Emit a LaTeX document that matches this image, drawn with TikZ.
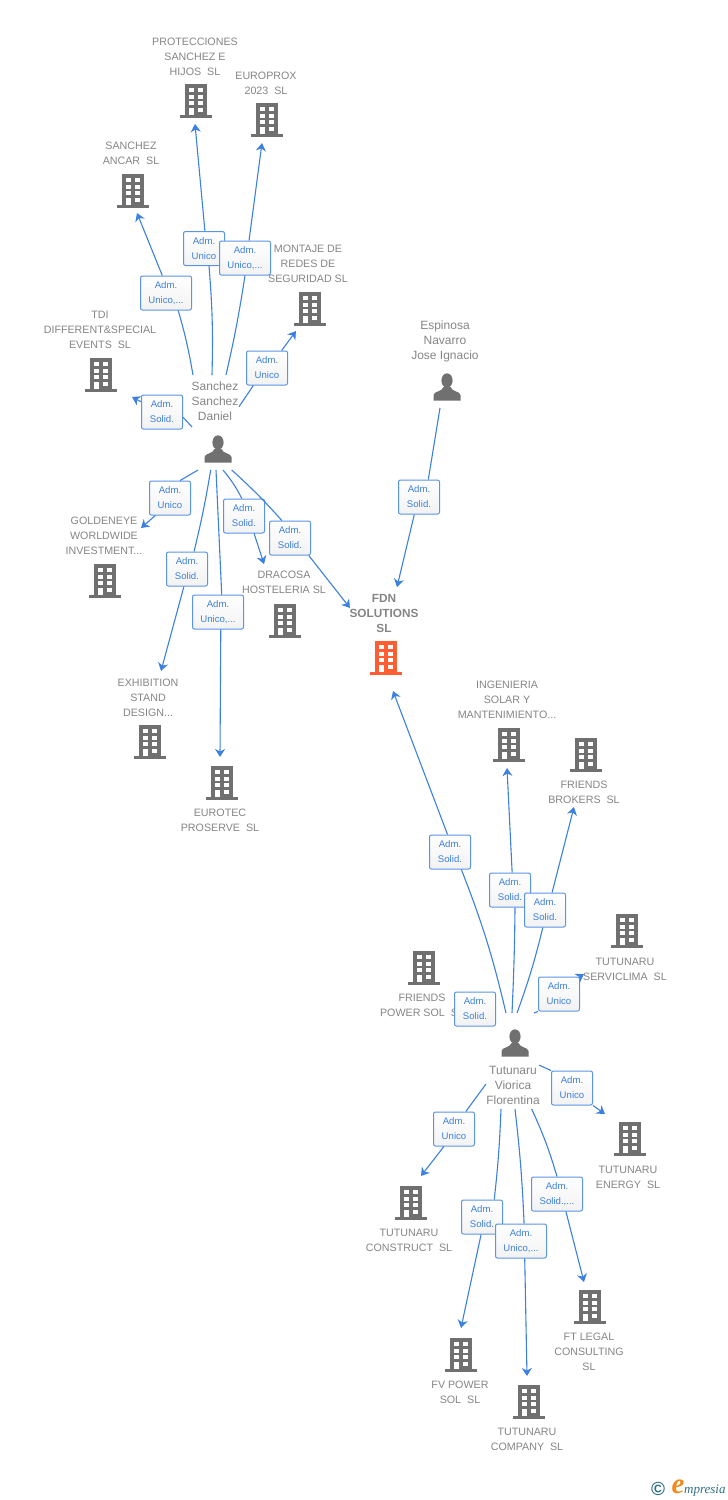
\documentclass[tikz,border=0pt]{standalone}
\usepackage{fontspec}
\setmainfont{Liberation Sans}
\newfontfamily\logofont{Liberation Serif}
\usetikzlibrary{arrows.meta}

\definecolor{iconGray}{HTML}{707070}
\definecolor{textGray}{HTML}{858585}
\definecolor{linkBlue}{HTML}{3C80E0}
\definecolor{boxBlue}{HTML}{5A94E6}
\definecolor{fdnOrange}{HTML}{FF5E33}
\definecolor{logoTeal}{HTML}{2F6F86}
\definecolor{logoOrange}{HTML}{F28A1E}

\tikzset{
	pics/building/.style={code={
		\fill[#1] (-11,-17) rectangle (11,14);
		\fill[#1] (-16,14) rectangle (16,17);
		\fill[white] (-7,-13) rectangle (-2,-9);
		\fill[white] (2,-13) rectangle (7,-9);
		\fill[white] (-7,-6.3) rectangle (-2,-2.3);
		\fill[white] (2,-6.3) rectangle (7,-2.3);
		\fill[white] (-7,0.4) rectangle (-2,4.4);
		\fill[white] (2,0.4) rectangle (7,4.4);
		\fill[white] (-7,7) rectangle (-2,14);
		\fill[white] (2,7) rectangle (7,11);
	}},
	pics/person/.style={code={
		\fill[iconGray] (0,-6.5) ellipse (5.6 and 7.2);
		\fill[iconGray] (-13.5,13.5) -- (-13.5,8) .. controls (-13,4) and (-5,5) .. (-3.5,0) -- (3.5,0) .. controls (5,5) and (13,4) .. (13.5,8) -- (13.5,13.5) -- cycle;
	}},
	firm/.style={text=textGray,align=center,inner sep=0pt,yshift=-1pt,font=\fontsize{10.7}{15}\selectfont},
	human/.style={firm,font=\fontsize{12}{15}\selectfont},
	adm/.style={draw=boxBlue,line width=1pt,rounded corners=2pt,top color=white,bottom color=black!5,text=linkBlue,align=center,inner sep=0pt,minimum width=41pt,minimum height=34pt,font=\fontsize{9.6}{15}\selectfont,execute at begin node={\vspace*{2pt}}},
	admw/.style={adm,minimum width=51pt},
	link/.style={draw=linkBlue,line width=1.1pt},
	arrow/.style={link,-{Stealth[length=8pt,width=10pt,inset=2.5pt]}}
}

\begin{document}
\begin{tikzpicture}[x=1pt,y=-1pt]
	\useasboundingbox (0,0) rectangle (728,1500);

	\pic at (196,101) {building=iconGray};
	\pic at (267,120) {building=iconGray};
	\pic at (133,191) {building=iconGray};
	\pic at (310,309) {building=iconGray};
	\pic at (101,375) {building=iconGray};
	\pic at (105,581) {building=iconGray};
	\pic at (285,621) {building=iconGray};
	\pic at (150,742) {building=iconGray};
	\pic at (222,783) {building=iconGray};
	\pic at (386,658) {building=fdnOrange};
	\pic at (509,745) {building=iconGray};
	\pic at (586,755) {building=iconGray};
	\pic at (627,931) {building=iconGray};
	\pic at (424,968) {building=iconGray};
	\pic at (630,1139) {building=iconGray};
	\pic at (411,1203) {building=iconGray};
	\pic at (590,1307) {building=iconGray};
	\pic at (461,1355) {building=iconGray};
	\pic at (529,1402) {building=iconGray};
	\pic at (218,449) {person};
	\pic at (447,387) {person};
	\pic at (515,1043) {person};

	\node[firm] (protecciones) at (195,56) {PROTECCIONES\\SANCHEZ E\\HIJOS~~SL};
	\node[firm] (europrox) at (266,82) {EUROPROX\\2023~~SL};
	\node[firm] (ancar) at (131,152) {SANCHEZ\\ANCAR~~SL};
	\node[firm] (montaje) at (308,263) {MONTAJE DE\\REDES DE\\SEGURIDAD SL};
	\node[firm] (tdi) at (100,329) {TDI\\DIFFERENT\&SPECIAL\\EVENTS~~SL};
	\node[human] (espinosa) at (445,340) {Espinosa\\Navarro\\Jose Ignacio};
	\node[human] (sanchez) at (215,400) {Sanchez\\Sanchez\\Daniel};
	\node[firm] (goldeneye) at (104,535) {GOLDENEYE\\WORLDWIDE\\INVESTMENT...};
	\node[firm] (dracosa) at (284,581) {DRACOSA\\HOSTELERIA SL};
	\node[firm,font=\fontsize{11.8}{15}\selectfont\bfseries] (fdn) at (384,612) {FDN\\SOLUTIONS\\SL};
	\node[firm] (exhibition) at (148,697) {EXHIBITION\\STAND\\DESIGN...};
	\node[firm] (eurotec) at (220,819) {EUROTEC\\PROSERVE~~SL};
	\node[firm] (ingenieria) at (507,699) {INGENIERIA\\SOLAR Y\\MANTENIMIENTO...};
	\node[firm] (brokers) at (584,791) {FRIENDS\\BROKERS~~SL};
	\node[firm] (serviclima) at (625,968) {TUTUNARU\\SERVICLIMA~~SL};
	\node[firm] (powersol) at (422,1004) {FRIENDS\\POWER SOL~~SL};
	\node[human] (tutunaru) at (513,1084) {Tutunaru\\Viorica\\Florentina};
	\node[firm] (energy) at (628,1176) {TUTUNARU\\ENERGY~~SL};
	\node[firm] (construct) at (409,1239) {TUTUNARU\\CONSTRUCT~~SL};
	\node[firm] (ftlegal) at (589,1351) {FT LEGAL\\CONSULTING\\SL};
	\node[firm] (fvpower) at (460,1391) {FV POWER\\SOL~~SL};
	\node[firm] (company) at (527,1438) {TUTUNARU\\COMPANY~~SL};

	\node[adm] (boxProtecciones) at (204,248.5) {Adm.\\Unico};
	\node[admw] (boxEuroprox) at (245,258) {Adm.\\Unico,...};
	\node[admw] (boxAncar) at (166,293) {Adm.\\Unico,...};
	\node[adm] (boxMontaje) at (267,368) {Adm.\\Unico};
	\node[adm] (boxTdi) at (162,412) {Adm.\\Solid.};
	\node[adm] (boxGoldeneye) at (170,498) {Adm.\\Unico};
	\node[adm] (boxDracosa) at (244,516) {Adm.\\Solid.};
	\node[adm] (boxSanchezFdn) at (290,538) {Adm.\\Solid.};
	\node[adm] (boxExhibition) at (187,569) {Adm.\\Solid.};
	\node[admw] (boxEurotec) at (218,612) {Adm.\\Unico,...};
	\node[adm] (boxEspinosa) at (419,497) {Adm.\\Solid.};
	\node[adm] (boxTutunaruFdn) at (450,852) {Adm.\\Solid.};
	\node[adm] (boxIngenieria) at (510,890) {Adm.\\Solid.};
	\node[adm] (boxBrokers) at (545,910) {Adm.\\Solid.};
	\node[adm] (boxServiclima) at (559,994) {Adm.\\Unico};
	\node[adm] (boxPowersol) at (475,1009) {Adm.\\Solid.};
	\node[adm] (boxEnergy) at (572,1088) {Adm.\\Unico};
	\node[adm] (boxConstruct) at (454,1129) {Adm.\\Unico};
	\node[admw] (boxFtlegal) at (557,1194) {Adm.\\Solid.,...};
	\node[adm] (boxFvpower) at (482,1217) {Adm.\\Solid.};
	\node[admw] (boxCompany) at (521,1241) {Adm.\\Unico,...};

	\coordinate (fromProtecciones) at (212,375);
	\coordinate (fromEuroprox) at (226,375);
	\coordinate (fromAncar) at (193,375);
	\coordinate (fromMontaje) at (239,406.7);
	\coordinate (fromTdi) at (192,427);
	\coordinate (fromGoldeneye) at (198,470);
	\coordinate (fromDracosa) at (223,470);
	\coordinate (fromSanchezFdn) at (231.7,470);
	\coordinate (fromExhibition) at (210.7,470);
	\coordinate (fromEurotec) at (216,470);
	\coordinate (fromEspinosa) at (440,408);
	\coordinate (fromTutunaruFdn) at (506,1013);
	\coordinate (fromIngenieria) at (512,1013);
	\coordinate (fromBrokers) at (517,1013);
	\coordinate (fromServiclima) at (534,1013);
	\coordinate (fromEnergy) at (539,1065);
	\coordinate (fromConstruct) at (486,1084);
	\coordinate (fromFtlegal) at (531.7,1109);
	\coordinate (fromFvpower) at (501,1109);
	\coordinate (fromCompany) at (515,1109);

	\coordinate (toProtecciones) at (195,124);
	\coordinate (toEuroprox) at (262,143);
	\coordinate (toAncar) at (137,213);
	\coordinate (toMontaje) at (296,331);
	\coordinate (toTdi) at (132,397);
	\coordinate (toGoldeneye) at (141,528);
	\coordinate (toDracosa) at (264,564);
	\coordinate (toSanchezFdn) at (350,608);
	\coordinate (toExhibition) at (161,671);
	\coordinate (toEurotec) at (220,757);
	\coordinate (toEspinosa) at (397,587);
	\coordinate (toTutunaruFdn) at (393,691);
	\coordinate (toIngenieria) at (507,768);
	\coordinate (toBrokers) at (574,807);
	\coordinate (toServiclima) at (584,974);
	\coordinate (toEnergy) at (605,1114);
	\coordinate (toConstruct) at (421,1176);
	\coordinate (toFtlegal) at (584,1282);
	\coordinate (toFvpower) at (461,1328);
	\coordinate (toCompany) at (527,1376);

	\draw[link] (fromProtecciones) to[bend right=3] (boxProtecciones.-74);
	\draw[arrow] (boxProtecciones.87) -- (toProtecciones);
	\draw[link] (fromEuroprox) to[bend right=2] (boxEuroprox.south);
	\draw[arrow] (boxEuroprox.77) -- (toEuroprox);
	\draw[link] (fromAncar) to[bend right=3] (boxAncar.-55);
	\draw[arrow] (boxAncar.102) -- (toAncar);
	\draw[link] (fromMontaje) -- (boxMontaje.-128);
	\draw[arrow] (boxMontaje.50) -- (toMontaje);
	\draw[link] (fromTdi) -- (boxTdi.-14);
	\draw[arrow] (boxTdi.154) -- (toTdi);
	\draw[link] (fromGoldeneye) -- (boxGoldeneye.60);
	\draw[arrow] (boxGoldeneye.-130) -- (toGoldeneye);
	\draw[link] (fromDracosa) to[bend left=6] (boxDracosa.97);
	\draw[arrow] (boxDracosa.-60) -- (toDracosa);
	\draw[link] (fromSanchezFdn) to[bend left=3] (boxSanchezFdn.115);
	\draw[arrow] (boxSanchezFdn.-43) -- (toSanchezFdn);
	\draw[link] (fromExhibition) to[bend left=2] (boxExhibition.68);
	\draw[arrow] (boxExhibition.-100) -- (toExhibition);
	\draw[link] (fromEurotec) -- (boxEurotec.78);
	\draw[arrow] (boxEurotec.-81) -- (toEurotec);
	\draw[link] (fromEspinosa) -- (boxEspinosa.62);
	\draw[arrow] (boxEspinosa.-105) -- (toEspinosa);
	\draw[link] (fromTutunaruFdn) to[bend right=4] (boxTutunaruFdn.-57);
	\draw[arrow] (boxTutunaruFdn.98) -- (toTutunaruFdn);
	\draw[link] (fromIngenieria) to[bend right=1] (boxIngenieria.-74);
	\draw[arrow] (boxIngenieria.83) -- (toIngenieria);
	\draw[link] (fromBrokers) to[bend right=3] (boxBrokers.-97);
	\draw[arrow] (boxBrokers.68) -- (toBrokers);
	\draw[link] (fromServiclima) -- (boxServiclima.south west);
	\draw[arrow] (boxServiclima.north east) -- (toServiclima);
	\draw[link] (fromEnergy) -- (boxEnergy.north west);
	\draw[arrow] (boxEnergy.south east) -- (toEnergy);
	\draw[link] (fromConstruct) -- (boxConstruct.56);
	\draw[arrow] (boxConstruct.-120) -- (toConstruct);
	\draw[link] (fromFtlegal) to[bend left=4] (boxFtlegal.north);
	\draw[arrow] (boxFtlegal.-63) -- (toFtlegal);
	\draw[link] (fromFvpower) to[bend left=2] (boxFvpower.55);
	\draw[arrow] (boxFvpower.-93) -- (toFvpower);
	\draw[link] (fromCompany) to[bend left=2] (boxCompany.80);
	\draw[arrow] (boxCompany.-78) -- (toCompany);

	\node[text=logoTeal,inner sep=0pt,font=\bfseries\fontsize{19}{19}\selectfont] (logoMark) at (658,1489) {©};
	\node[text=logoOrange,inner sep=0pt,font=\logofont\itshape\bfseries\fontsize{29}{29}\selectfont] (logoE) at (678,1487) {e};
	\node[anchor=west,text=logoTeal,inner sep=0pt,font=\logofont\itshape\fontsize{13}{13}\selectfont] (logoName) at (684,1491) {mpresia};
\end{tikzpicture}
\end{document}
